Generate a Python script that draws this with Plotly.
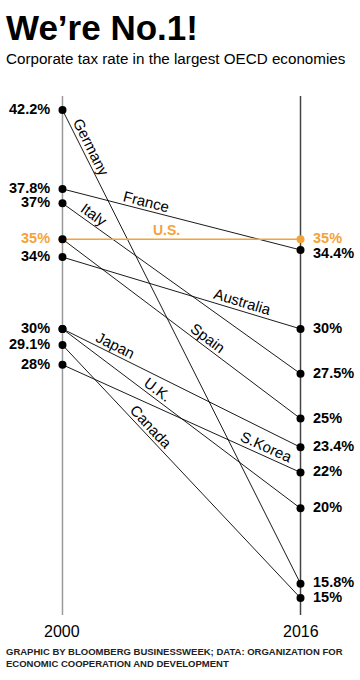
import math
import plotly.graph_objects as go

# ---- data ----
countries = ["Germany", "France", "Italy", "U.S.", "Australia", "Spain",
             "Japan", "U.K.", "Canada", "S.Korea"]
rate_2000 = [42.2, 37.8, 37.0, 35.0, 34.0, 35.0, 30.0, 30.0, 29.1, 28.0]
rate_2016 = [15.8, 34.4, 27.5, 35.0, 30.0, 25.0, 23.4, 20.0, 15.0, 22.0]
years = [2000, 2016]
left_labels = ["42.2%", "37.8%", "37%", "35%", "34%", "30%", "29.1%", "28%"]
left_values = [42.2, 37.8, 37.0, 35.0, 34.0, 30.0, 29.1, 28.0]
right_labels = ["35%", "34.4%", "30%", "27.5%", "25%", "23.4%", "22%", "20%", "15.8%", "15%"]
right_values = [35.0, 34.4, 30.0, 27.5, 25.0, 23.4, 22.0, 20.0, 15.8, 15.0]
# where along each line its name sits (fraction of the way from 2000 to 2016)
label_pos = [0.088, 0.345, 0.110, 0.437, 0.745, 0.587, 0.208, 0.378, 0.345, 0.84]

ORANGE = "#F2A33A"
FONT = "Liberation Sans, Arial"
W, H = 360, 680
XR = [1995.8, 2020.0]
YR = [10.43, 48.33]
pxx = W / (XR[1] - XR[0])
pxy = H / (YR[1] - YR[0])

fig = go.Figure()

# vertical year rules
fig.add_shape(type="line", x0=2000, x1=2000, y0=14.05, y1=42.98,
              line=dict(color="#9a9a9a", width=1.5), layer="below")
fig.add_shape(type="line", x0=2016, x1=2016, y0=14.05, y1=42.98,
              line=dict(color="#444444", width=1.5), layer="below")

annotations = []
for name, a, b, t in zip(countries, rate_2000, rate_2016, label_pos):
    us = name == "U.S."
    col = ORANGE if us else "black"
    fig.add_trace(go.Scatter(
        x=years, y=[a, b], mode="lines+markers",
        line=dict(color=col, width=1.5 if us else 0.9),
        marker=dict(size=8, color=col),
        hoverinfo="skip", showlegend=False))
    # label along the line, lifted off it perpendicularly
    s = (a - b) * pxy / ((years[1] - years[0]) * pxx)  # screen slope (down positive)
    ang = math.degrees(math.atan(s))
    n = math.hypot(1, s)
    off = 9
    annotations.append(dict(
        x=years[0] + t * (years[1] - years[0]), y=a + t * (b - a),
        xref="x", yref="y", text=name, showarrow=False, textangle=ang,
        xshift=s / n * off, yshift=1 / n * off,
        font=dict(family=FONT, size=14 if us else 15,
                  color=col, weight="bold" if us else "normal"),
        xanchor="center", yanchor="middle"))

for lab, v in zip(left_labels, left_values):
    col = ORANGE if lab == "35%" else "black"
    annotations.append(dict(x=2000, y=v, xref="x", yref="y", text=lab, showarrow=False,
                            xanchor="right", yanchor="middle", xshift=-10, yshift=1,
                            font=dict(family=FONT, size=14.5, color=col, weight="bold")))
right_shift = {"35%": 1, "34.4%": -3, "15.8%": 2}
for lab, v in zip(right_labels, right_values):
    col = ORANGE if lab == "35%" else "black"
    annotations.append(dict(x=2016, y=v, xref="x", yref="y", text=lab, showarrow=False,
                            xanchor="left", yanchor="middle", xshift=10,
                            yshift=right_shift.get(lab, 1),
                            font=dict(family=FONT, size=14.5, color=col, weight="bold")))

for yr in years:
    annotations.append(dict(x=yr, y=YR[0] + (H - 631) / pxy, xref="x", yref="y",
                            text=str(yr), showarrow=False, xanchor="center", yanchor="middle",
                            font=dict(family=FONT, size=16, color="black")))

annotations.append(dict(x=4 / W, y=1 - 28 / H, xref="paper", yref="paper",
                        text="<b>We’re No.1!</b>", showarrow=False,
                        xanchor="left", yanchor="middle",
                        font=dict(family=FONT, size=35, color="black")))
annotations.append(dict(x=4 / W, y=1 - 58 / H, xref="paper", yref="paper",
                        text="Corporate tax rate in the largest OECD economies", showarrow=False,
                        xanchor="left", yanchor="middle",
                        font=dict(family=FONT, size=15.2, color="black")))
annotations.append(dict(x=4 / W, y=1 - 657 / H, xref="paper", yref="paper",
                        text="<b>GRAPHIC BY BLOOMBERG BUSINESSWEEK; DATA: ORGANIZATION FOR<br>"
                             "ECONOMIC COOPERATION AND DEVELOPMENT</b>",
                        showarrow=False, xanchor="left", yanchor="middle", align="left",
                        font=dict(family=FONT, size=9.5, color="#222222")))

fig.update_layout(
    width=W, height=H, margin=dict(l=0, r=0, t=0, b=0),
    paper_bgcolor="white", plot_bgcolor="white",
    xaxis=dict(range=XR, visible=False, fixedrange=True),
    yaxis=dict(range=YR, visible=False, fixedrange=True),
    annotations=annotations, showlegend=False)

fig.write_html("out.html", config={"displayModeBar": False})

# remove the browser's default page margin so the 360x680 figure fills the window
with open("out.html", encoding="utf-8") as f:
    html = f.read()
html = html.replace("<head>", "<head><style>html,body{margin:0;padding:0;overflow:hidden}</style>", 1)
with open("out.html", "w", encoding="utf-8") as f:
    f.write(html)
